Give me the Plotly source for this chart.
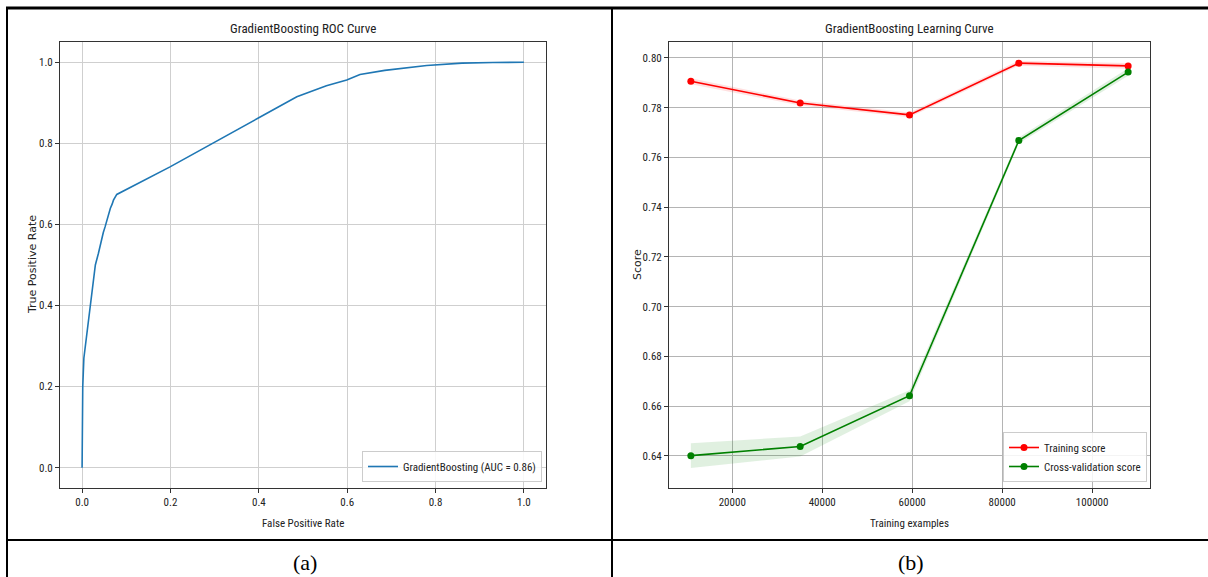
import plotly.graph_objects as go

W, H = 1208, 577

# ---------------- data ----------------
roc_fpr = [0.0, 0.0005, 0.0015, 0.004, 0.009, 0.0166, 0.0257, 0.030, 0.037, 0.041, 0.0445,
           0.048, 0.052, 0.056, 0.0596, 0.064, 0.068, 0.071, 0.0785, 0.199, 0.403, 0.486,
           0.553, 0.599, 0.629, 0.65, 0.685, 0.78, 0.86, 0.93, 1.0]
roc_tpr = [0.0, 0.10, 0.20, 0.27, 0.315, 0.389, 0.471, 0.50, 0.529, 0.55, 0.570,
           0.58, 0.594, 0.61, 0.627, 0.64, 0.65, 0.660, 0.674, 0.742, 0.865, 0.915,
           0.942, 0.956, 0.970, 0.974, 0.980, 0.992, 0.998, 0.9995, 1.0]
roc_label = "GradientBoosting (AUC = 0.86)"

train_sizes = [10800, 35100, 59400, 83700, 108000]
train_mean = [0.7906, 0.7819, 0.7771, 0.7979, 0.7968]
train_std = [0.0012, 0.0010, 0.0010, 0.0010, 0.0012]
cv_mean = [0.6401, 0.6438, 0.6642, 0.7668, 0.7943]
cv_std = [0.0050, 0.0040, 0.0022, 0.0012, 0.0015]

roc_xticks = [0.0, 0.2, 0.4, 0.6, 0.8, 1.0]
roc_yticks = [0.0, 0.2, 0.4, 0.6, 0.8, 1.0]
lc_xticks = [20000, 40000, 60000, 80000, 100000]
lc_yticks = [0.64, 0.66, 0.68, 0.70, 0.72, 0.74, 0.76, 0.78, 0.80]

# ---------------- helpers ----------------
def px(x):
    return x / W

def py(y):
    return 1 - y / H

NARROW = "Liberation Sans Narrow, Arial Narrow, Roboto Condensed, sans-serif"
WIDE = "DejaVu Sans, sans-serif"

fig = go.Figure()

# ROC curve
fig.add_trace(go.Scatter(x=roc_fpr, y=roc_tpr, mode="lines", name=roc_label,
                         line=dict(color="#1f77b4", width=1.6),
                         xaxis="x", yaxis="y", legend="legend"))

# Learning curve bands
tr_up = [m + s for m, s in zip(train_mean, train_std)]
tr_lo = [m - s for m, s in zip(train_mean, train_std)]
cv_up = [m + s for m, s in zip(cv_mean, cv_std)]
cv_lo = [m - s for m, s in zip(cv_mean, cv_std)]
fig.add_trace(go.Scatter(x=train_sizes + train_sizes[::-1], y=tr_up + tr_lo[::-1],
                         fill="toself", fillcolor="rgba(255,0,0,0.12)", line=dict(width=0),
                         mode="lines", showlegend=False, hoverinfo="skip",
                         xaxis="x2", yaxis="y2"))
fig.add_trace(go.Scatter(x=train_sizes + train_sizes[::-1], y=cv_up + cv_lo[::-1],
                         fill="toself", fillcolor="rgba(0,128,0,0.12)", line=dict(width=0),
                         mode="lines", showlegend=False, hoverinfo="skip",
                         xaxis="x2", yaxis="y2"))
fig.add_trace(go.Scatter(x=train_sizes, y=train_mean, mode="lines+markers", name="Training score",
                         line=dict(color="red", width=1.6), marker=dict(color="red", size=7),
                         xaxis="x2", yaxis="y2", legend="legend2"))
fig.add_trace(go.Scatter(x=train_sizes, y=cv_mean, mode="lines+markers", name="Cross-validation score",
                         line=dict(color="green", width=1.6), marker=dict(color="green", size=7),
                         xaxis="x2", yaxis="y2", legend="legend2"))

axis_common = dict(showgrid=True, gridwidth=1, zeroline=False, showline=True,
                   linecolor="#333333", linewidth=1, mirror=True, ticks="outside",
                   ticklen=4, tickcolor="#333333", tickwidth=1,
                   tickfont=dict(family=NARROW, size=11, color="#222222"))

fig.update_layout(
    width=W, height=H, margin=dict(l=0, r=0, t=0, b=0),
    paper_bgcolor="white", plot_bgcolor="white", showlegend=True,
    xaxis=dict(domain=[px(60), px(546)], range=[-0.05, 1.05], tickvals=roc_xticks,
               tickformat=".1f", gridcolor="#cfcfcf", anchor="y", **axis_common),
    yaxis=dict(domain=[py(488), py(42)], range=[-0.05, 1.05], tickvals=roc_yticks,
               tickformat=".1f", gridcolor="#cfcfcf", anchor="x", **axis_common),
    xaxis2=dict(domain=[px(669), px(1150)], range=[5940, 112860], tickvals=lc_xticks,
                tickformat="d", gridcolor="#b4b4b4", anchor="y2", **axis_common),
    yaxis2=dict(domain=[py(488), py(42)], range=[0.6271, 0.8064], tickvals=lc_yticks,
                tickformat=".2f", gridcolor="#b4b4b4", anchor="x2", **axis_common),
    legend=dict(x=px(542), y=py(482), xanchor="right", yanchor="bottom",
                bgcolor="rgba(255,255,255,0.85)", bordercolor="#cccccc", borderwidth=1,
                font=dict(family=NARROW, size=11, color="#222222"), itemwidth=30,
                tracegroupgap=0),
    legend2=dict(x=px(1147), y=py(482), xanchor="right", yanchor="bottom",
                 bgcolor="rgba(255,255,255,0.85)", bordercolor="#cccccc", borderwidth=1,
                 font=dict(family=NARROW, size=11, color="#222222"), itemwidth=30,
                 tracegroupgap=0),
)

ann = []
def text(x, y, s, size, family=NARROW, angle=0, color="#222222"):
    ann.append(dict(x=px(x), y=py(y), xref="paper", yref="paper", text=s, showarrow=False,
                    xanchor="center", yanchor="middle", textangle=angle,
                    font=dict(family=family, size=size, color=color)))

text(303, 28, "GradientBoosting ROC Curve", 13)
text(909.5, 28, "GradientBoosting Learning Curve", 13)
text(303, 523, "False Positive Rate", 11)
text(909.5, 523, "Training examples", 11)
text(32, 265, "True Positive Rate", 11, family=WIDE, angle=-90)
text(637, 265, "Score", 11, family=WIDE, angle=-90)
text(305, 562, "(a)", 22, family="Liberation Serif, DejaVu Serif, serif", color="#000000")
text(911, 562, "(b)", 22, family="Liberation Serif, DejaVu Serif, serif", color="#000000")
fig.update_layout(annotations=ann)

shapes = []
def line(x0, y0, x1, y1, w):
    shapes.append(dict(type="line", xref="paper", yref="paper", x0=px(x0), y0=py(y0),
                       x1=px(x1), y1=py(y1), line=dict(color="black", width=w)))

line(6, 8, W, 8, 3)          # top border
line(7, 7, 7, H, 2)          # left border
line(612, 7, 612, H, 2)      # middle border
line(7, 540, W, 540, 2)      # row separator
fig.update_layout(shapes=shapes)

fig.write_html("out.html", config={"displayModeBar": False},
               post_script="document.body.style.margin='0';document.body.style.overflow='hidden';")
